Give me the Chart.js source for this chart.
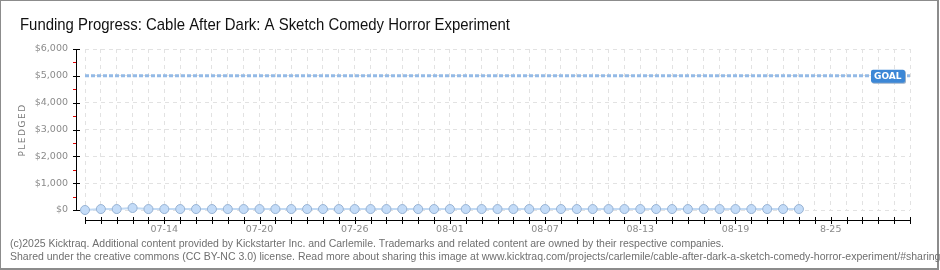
<!DOCTYPE html>
<html><head><meta charset="utf-8">
<script src="https://cdn.jsdelivr.net/npm/chart.js@4/dist/chart.umd.min.js"></script>
<style>html,body{margin:0;padding:0;background:#fff}#wrap{width:940px;height:270px;position:relative}</style>
</head><body><div id="wrap"><canvas id="c" width="940" height="270"></canvas></div>
<script>
const titleText = "Funding Progress: Cable After Dark: A Sketch Comedy Horror Experiment";
const dateLabels = ["07-09","07-10","07-11","07-12","07-13","07-14","07-15","07-16","07-17","07-18",
  "07-19","07-20","07-21","07-22","07-23","07-24","07-25","07-26","07-27","07-28","07-29","07-30","07-31",
  "08-01","08-02","08-03","08-04","08-05","08-06","08-07","08-08","08-09","08-10","08-11","08-12","08-13",
  "08-14","08-15","08-16","08-17","08-18","08-19","08-20","08-21","08-22","08-23","08-24","08-25","08-26",
  "08-27","08-28","08-29","08-30"];
const pledged = [0,35,35,75,35,35,35,35,35,35,35,35,35,35,35,35,35,35,35,35,35,35,35,
  35,35,35,35,35,35,35,35,35,35,35,35,35,35,35,35,35,35,35,35,35,35,35];
const goalAmount = 5000;
const goalSeries = dateLabels.map(() => goalAmount);
const yTickValues = [0,1000,2000,3000,4000,5000,6000];
const xTickLabels = ["07-14","07-20","07-26","08-01","08-07","08-13","08-19","8-25"];
const xTickFirst = 5, xTickEvery = 6;
const yAxisTitle = "PLEDGED";
const goalText = "GOAL";
const footerLines = [
  "(c)2025 Kicktraq. Additional content provided by Kickstarter Inc. and Carlemile. Trademarks and related content are owned by their respective companies.",
  "Shared under the creative commons (CC BY-NC 3.0) license. Read more about sharing this image at www.kicktraq.com/projects/carlemile/cable-after-dark-a-sketch-comedy-horror-experiment/#sharing"
];

const tickFont = {family: '"DejaVu Sans", sans-serif', size: 9.5};
const tickColor = '#8a8a8a';

const deco = {
  id: 'deco',
  beforeDraw(chart) {
    const ctx = chart.ctx;
    ctx.save(); ctx.fillStyle = '#fff'; ctx.fillRect(0,0,chart.width,chart.height); ctx.restore();
  },
  afterDraw(chart) {
    const ctx = chart.ctx, ca = chart.chartArea;
    const xs = chart.scales.x, ys = chart.scales.y;
    ctx.save();
    // frame
    ctx.strokeStyle = '#8c8c8c'; ctx.lineWidth = 2;
    ctx.strokeRect(0, 0, 938, 269);
    // title
    ctx.fillStyle = '#111';
    ctx.font = '17px "Liberation Sans Narrow", "Liberation Sans", sans-serif';
    ctx.textBaseline = 'alphabetic'; ctx.textAlign = 'left';
    let w = ctx.measureText(titleText).width;
    ctx.save(); ctx.translate(20, 30); ctx.scale(490 / w, 1); ctx.fillText(titleText, 0, 0); ctx.restore();
    // footer
    ctx.fillStyle = '#6f6f6f';
    ctx.font = '10.5px "Liberation Sans Narrow", "Liberation Sans", sans-serif';
    const fw = ctx.measureText(footerLines[0]).width;
    const fs = 714 / fw;
    footerLines.forEach((t, i) => {
      ctx.save(); ctx.translate(10, 247 + i * 13); ctx.scale(fs, 1); ctx.fillText(t, 0, 0); ctx.restore();
    });
    // y axis line + ticks
    const axX = 76.5;
    ctx.strokeStyle = '#000'; ctx.lineWidth = 1;
    ctx.beginPath(); ctx.moveTo(axX, ys.getPixelForValue(6000)); ctx.lineTo(axX, ys.getPixelForValue(0)); ctx.stroke();
    yTickValues.forEach(v => {
      const y = Math.round(ys.getPixelForValue(v)) + 0.5;
      ctx.strokeStyle = '#000';
      ctx.beginPath(); ctx.moveTo(73, y); ctx.lineTo(80, y); ctx.stroke();
      if (v < 6000) {
        const ym = Math.round(ys.getPixelForValue(v + 500)) + 0.5;
        ctx.strokeStyle = '#e00000';
        ctx.beginPath(); ctx.moveTo(73, ym); ctx.lineTo(76, ym); ctx.stroke();
      }
    });
    // x axis line + ticks
    const axY = 220.5;
    ctx.strokeStyle = '#000';
    ctx.beginPath(); ctx.moveTo(xs.getPixelForValue(0), axY); ctx.lineTo(xs.getPixelForValue(dateLabels.length - 1), axY); ctx.stroke();
    for (let i = 0; i < dateLabels.length; i++) {
      const x = Math.round(xs.getPixelForValue(i)) + 0.5;
      ctx.beginPath(); ctx.moveTo(x, 217); ctx.lineTo(x, 224); ctx.stroke();
    }
    // y title
    ctx.fillStyle = '#7a7a7a';
    ctx.font = '9px "DejaVu Sans", sans-serif';
    ctx.save(); ctx.translate(23, 130); ctx.rotate(-Math.PI / 2);
    ctx.textAlign = 'center'; ctx.textBaseline = 'middle';
    if ('letterSpacing' in ctx) ctx.letterSpacing = '1.5px';
    ctx.fillText(yAxisTitle, 0, 0);
    ctx.restore();
    // goal label
    const gy = ys.getPixelForValue(goalAmount);
    const bx = ca.right - 39, bw = 34, bh = 13, by = gy - 6;
    ctx.fillStyle = '#9ab0c8';
    ctx.beginPath(); ctx.roundRect(bx + 1, by + 1, bw, bh, 2); ctx.fill();
    ctx.fillStyle = '#3c87d6';
    ctx.beginPath(); ctx.roundRect(bx, by, bw, bh, 2); ctx.fill();
    ctx.fillStyle = '#fff';
    ctx.font = 'bold 9px "DejaVu Sans", sans-serif';
    ctx.textAlign = 'left'; ctx.textBaseline = 'middle';
    ctx.fillText(goalText, bx + 3, by + bh / 2 + 0.5);
    ctx.restore();
  }
};

new Chart(document.getElementById('c'), {
  type: 'line',
  data: {
    labels: dateLabels,
    datasets: [
      {
        label: 'Pledged', data: pledged, clip: false,
        borderColor: '#c2daf4', borderWidth: 2,
        pointRadius: 4.5, pointBackgroundColor: '#c4dcf8', pointBorderColor: '#98b3d4', pointBorderWidth: 1,
        tension: 0, order: 1
      },
      {
        label: 'Goal', data: goalSeries, clip: false,
        borderColor: '#94bae6', borderWidth: 3, borderDash: [4, 2],
        pointRadius: 0, tension: 0, order: 2
      }
    ]
  },
  options: {
    responsive: false, devicePixelRatio: 1, animation: false,
    layout: {padding: {left: 0, right: 30, top: 49, bottom: 0}},
    plugins: {legend: {display: false}, tooltip: {enabled: false}, title: {display: false}},
    scales: {
      x: {
        type: 'category', offset: false,
        grid: {color: '#e2e2e2', drawTicks: false, lineWidth: 1},
        border: {display: false, dash: [4, 4]},
        ticks: {
          autoSkip: false, maxRotation: 0, minRotation: 0, padding: 14,
          font: tickFont, color: tickColor,
          callback: (v, i) => (i >= xTickFirst && (i - xTickFirst) % xTickEvery === 0) ? (xTickLabels[(i - xTickFirst) / xTickEvery] || '') : ''
        },
        afterFit: s => { s.height = 60; }
      },
      y: {
        min: 0, max: 6000,
        grid: {color: '#e2e2e2', drawTicks: false, lineWidth: 1},
        border: {display: false, dash: [4, 4]},
        ticks: {
          stepSize: 1000, padding: 17, font: tickFont, color: tickColor,
          callback: v => '$' + v.toLocaleString('en-US')
        },
        afterFit: s => { s.width = 85; }
      }
    }
  },
  plugins: [deco]
});
</script>
</body></html>
